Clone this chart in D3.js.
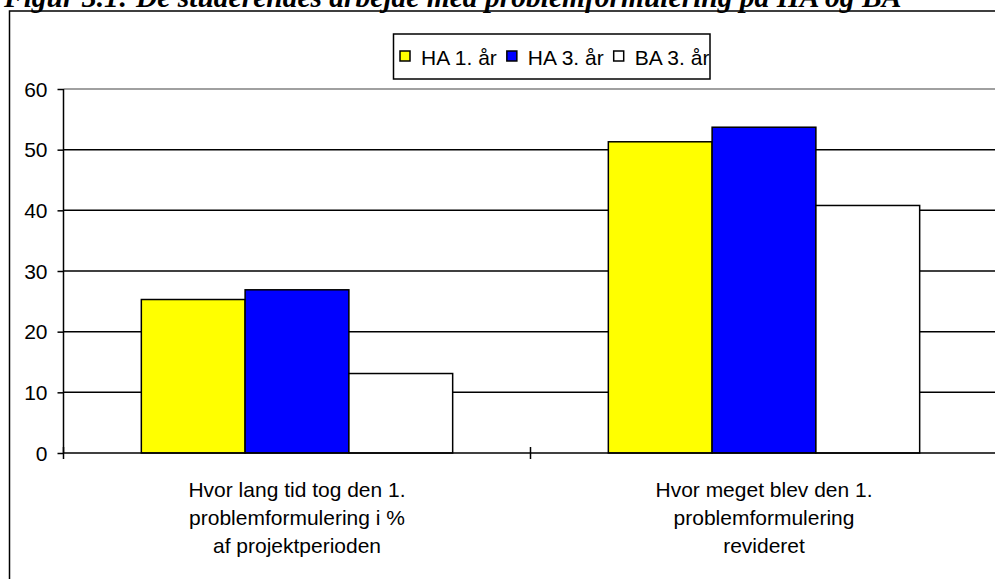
<!DOCTYPE html>
<html>
<head>
<meta charset="utf-8">
<script src="https://cdn.jsdelivr.net/npm/d3@7"></script>
<style>
  html, body { margin: 0; padding: 0; background: #fff; }
  svg { display: block; }
</style>
</head>
<body>
<svg id="chart" width="995" height="579"></svg>
<script>
// Figure data
const titleText = "Figur 3.1: De studerendes arbejde med problemformulering på HA og BA";
const categories = ["cat1", "cat2"];
const categoryLabels = [
  ["Hvor lang tid tog den 1.", "problemformulering i %", "af projektperioden"],
  ["Hvor meget blev den 1.", "problemformulering", "revideret"]
];
const seriesNames = ["HA 1. år", "HA 3. år", "BA 3. år"];
const seriesColors = ["#FFFF00", "#0000FF", "#FFFFFF"];
const haFirstYear = [25.3, 51.3];
const haThirdYear = [26.9, 53.7];
const baThirdYear = [13.1, 40.8];
const yTicks = [0, 10, 20, 30, 40, 50, 60];

const seriesValues = [haFirstYear, haThirdYear, baThirdYear];

const svg = d3.select("#chart");
const font = "'Liberation Sans', Arial, sans-serif";
const fontSize = 20;
const stretch = 1.05;

svg.append("rect").attr("width", 995).attr("height", 579).attr("fill", "#fff");

// Title (partly above the page edge)
svg.append("text")
  .attr("x", 4).attr("y", 6.5)
  .attr("font-family", "'Liberation Serif', 'Times New Roman', serif")
  .attr("font-weight", "bold").attr("font-style", "italic")
  .attr("font-size", 29.5)
  .attr("fill", "#000")
  .text(titleText);

// Chart frame
svg.append("rect")
  .attr("x", 9.5).attr("y", 11).attr("width", 1000).attr("height", 620)
  .attr("fill", "none").attr("stroke", "#000").attr("stroke-width", 1.5);

const plotLeft = 63.5, plotRight = 997.5, plotTop = 89, plotBottom = 453;

const x = d3.scaleBand().domain(categories).range([plotLeft, plotRight]).paddingInner(0).paddingOuter(0);
const xs = d3.scaleBand().domain(d3.range(seriesNames.length)).range([0, x.bandwidth()])
  .paddingInner(0).paddingOuter(0.75);
const y = d3.scaleLinear().domain([0, 60]).range([plotBottom, plotTop]);

// Gridlines
svg.append("g").selectAll("line").data(yTicks.filter(t => t > 0 && t < 60)).join("line")
  .attr("x1", plotLeft).attr("x2", plotRight + 10)
  .attr("y1", d => y(d)).attr("y2", d => y(d))
  .attr("stroke", "#000").attr("stroke-width", 1.5);

// Plot area top border
svg.append("line")
  .attr("x1", plotLeft).attr("x2", plotRight + 10).attr("y1", y(60)).attr("y2", y(60))
  .attr("stroke", "#808080").attr("stroke-width", 1.5);

// Bars
categories.forEach((c, ci) => {
  const g = svg.append("g").attr("transform", `translate(${x(c)},0)`);
  g.selectAll("rect").data(seriesValues.map((s, si) => ({ si, v: s[ci] }))).join("rect")
    .attr("x", d => xs(d.si))
    .attr("y", d => y(d.v))
    .attr("width", xs.bandwidth())
    .attr("height", d => y(0) - y(d.v))
    .attr("fill", d => seriesColors[d.si])
    .attr("stroke", "#000").attr("stroke-width", 1.5);
});

// Y axis
const yAxis = d3.axisLeft(y).tickValues(yTicks).tickSize(6).tickPadding(0).tickFormat(d3.format("d"));
const yg = svg.append("g").attr("transform", `translate(${plotLeft},0)`).call(yAxis);
yg.select(".domain").attr("stroke", "#000").attr("stroke-width", 1.5).attr("d", `M0,${plotTop}V${plotBottom}`);
yg.selectAll(".tick line").attr("stroke", "#000").attr("stroke-width", 1.5);
yg.selectAll(".tick text").remove();
yg.selectAll(".tick").append("text")
  .attr("transform", `translate(-16,7) scale(${stretch},1)`)
  .attr("text-anchor", "end")
  .attr("font-family", font).attr("font-size", fontSize).attr("fill", "#000")
  .text(d => d);

// X axis with tick marks at category boundaries
svg.append("line")
  .attr("x1", plotLeft).attr("x2", plotRight + 10).attr("y1", plotBottom).attr("y2", plotBottom)
  .attr("stroke", "#000").attr("stroke-width", 1.5);
const boundaries = categories.map(c => x(c)).concat([x(categories[categories.length - 1]) + x.bandwidth()]);
svg.append("g").selectAll("line").data(boundaries).join("line")
  .attr("x1", d => d).attr("x2", d => d)
  .attr("y1", plotBottom - 6).attr("y2", plotBottom + 6)
  .attr("stroke", "#000").attr("stroke-width", 1.5);

// Category labels
categories.forEach((c, ci) => {
  const cx = x(c) + x.bandwidth() / 2;
  categoryLabels[ci].forEach((line, li) => {
    svg.append("text")
      .attr("transform", `translate(${cx},${497 + li * 28}) scale(${stretch},1)`)
      .attr("text-anchor", "middle")
      .attr("font-family", font).attr("font-size", fontSize).attr("fill", "#000")
      .text(line);
  });
});

// Legend
const lg = svg.append("g");
const lx = 393.5, ly = 34, lw = 316.5, lh = 45;
svg.append("defs").append("clipPath").attr("id", "legendClip")
  .append("rect").attr("x", lx).attr("y", ly).attr("width", lw).attr("height", lh);
lg.append("rect").attr("x", lx).attr("y", ly).attr("width", lw).attr("height", lh)
  .attr("fill", "#fff").attr("stroke", "#000").attr("stroke-width", 1.5);
const items = lg.append("g").attr("clip-path", "url(#legendClip)");
let cursor = 400;
seriesNames.forEach((name, i) => {
  items.append("rect").attr("x", cursor).attr("y", 51).attr("width", 10).attr("height", 10)
    .attr("fill", seriesColors[i]).attr("stroke", "#000").attr("stroke-width", 1.5);
  const t = items.append("text")
    .attr("transform", `translate(${cursor + 21},65) scale(${stretch},1)`)
    .attr("font-family", font).attr("font-size", fontSize).attr("fill", "#000")
    .text(name);
  cursor += 21 + t.node().getComputedTextLength() * stretch + 10;
});
</script>
</body>
</html>
